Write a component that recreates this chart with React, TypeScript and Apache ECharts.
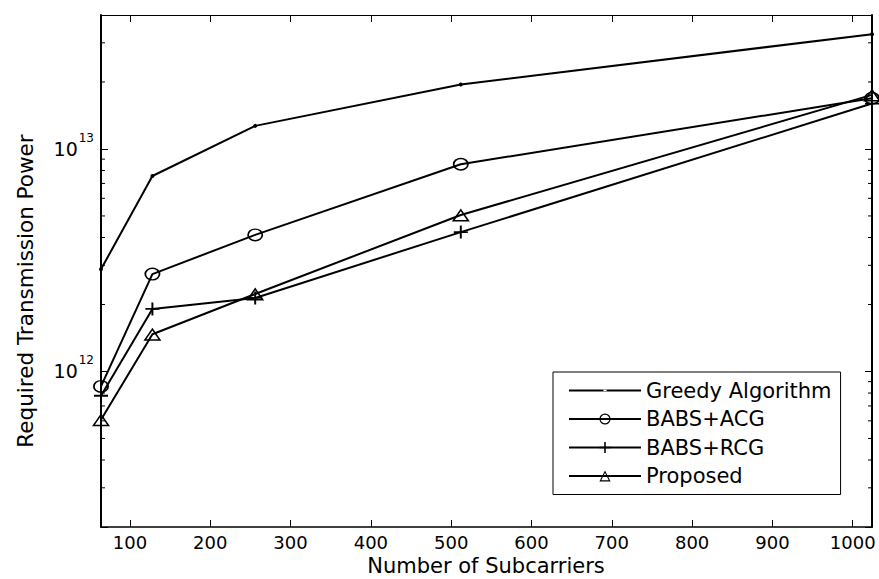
import React, { useEffect, useRef } from "react";
import * as echarts from "echarts";

const X_VALUES = [64, 128, 256, 512, 1024];
const GREEDY = [2.88e12, 7.56e12, 1.27e13, 1.95e13, 3.28e13];
const BABS_ACG = [8.57e11, 2.74e12, 4.11e12, 8.54e12, 1.69e13];
const BABS_RCG = [7.78e11, 1.91e12, 2.14e12, 4.23e12, 1.6e13];
const PROPOSED = [6.07e11, 1.47e12, 2.23e12, 5.05e12, 1.75e13];

const SERIES_NAMES = ["Greedy Algorithm", "BABS+ACG", "BABS+RCG", "Proposed"];
const X_TITLE = "Number of Subcarriers";
const Y_TITLE = "Required Transmission Power";
const X_MIN = 64;
const X_MAX = 1024;
const Y_MIN = 2e11;
const Y_MAX = 4e13;
const MINOR_Y_TICKS = [
  3e11, 4e11, 5e11, 6e11, 7e11, 8e11, 9e11,
  2e12, 3e12, 4e12, 5e12, 6e12, 7e12, 8e12, 9e12,
  2e13, 3e13,
];

const FONT = "DejaVu Sans";

const RING =
  "path://M0,10 A10,10 0 1,1 20,10 A10,10 0 1,1 0,10 Z M2.2,10 A7.8,7.8 0 1,0 17.8,10 A7.8,7.8 0 1,0 2.2,10 Z";
const TRI =
  "path://M0,17.32 L10,0 L20,17.32 Z M3.3,15.4 L16.7,15.4 L10,3.8 Z";
const PLUS =
  "path://M4.3,0 H5.7 V4.3 H10 V5.7 H5.7 V10 H4.3 V5.7 H0 V4.3 H4.3 Z";
const DOT_LINE =
  "path://M0,6 H72 V8 H0 Z M34.4,7 A1.6,1.6 0 1,0 37.6,7 A1.6,1.6 0 1,0 34.4,7 Z";

function pairs(ys: number[]) {
  return X_VALUES.map((x, i) => [x, ys[i]]);
}

export default function App() {
  const ref = useRef<HTMLDivElement>(null);

  useEffect(() => {
    document.body.style.margin = "0";
    if (!ref.current) return;
    const chart = echarts.init(ref.current, null, { renderer: "svg" });

    const lineBase = {
      type: "line" as const,
      clip: false,
      lineStyle: { color: "#000", width: 2 },
      itemStyle: { color: "#000", borderWidth: 0 },
      emphasis: { disabled: true },
      z: 3,
    };

    const yAxisCommon = {
      type: "log" as const,
      logBase: 10,
      min: Y_MIN,
      max: Y_MAX,
      splitLine: { show: false },
      axisTick: { show: true, inside: true, length: 7, lineStyle: { color: "#000", width: 1 } },
    };

    const xAxisCommon = {
      type: "value" as const,
      min: X_MIN,
      max: X_MAX,
      splitNumber: 10,
      maxInterval: 100,
      minInterval: 100,
      splitLine: { show: false },
      axisTick: { show: true, inside: true, length: 7, lineStyle: { color: "#000", width: 1 } },
    };

    chart.setOption({
      animation: false,
      backgroundColor: "#fff",
      grid: {
        left: 101,
        right: 7,
        top: 15,
        bottom: 52,
        containLabel: false,
        outerBoundsMode: "none",
      },
      xAxis: [
        {
          ...xAxisCommon,
          position: "bottom",
          axisLine: { show: true, lineStyle: { color: "#000", width: 1.6 } },
          axisLabel: {
            show: true,
            showMinLabel: false,
            showMaxLabel: false,
            margin: 6,
            color: "#000",
            fontFamily: FONT,
            fontSize: 18,
            lineHeight: 18,
            formatter: (v: number) => (v % 100 === 0 ? String(v) : ""),
          },
        },
        {
          ...xAxisCommon,
          position: "top",
          axisLine: { show: true, lineStyle: { color: "#000", width: 1.2 } },
          axisLabel: { show: false },
        },
      ],
      yAxis: [
        {
          ...yAxisCommon,
          position: "left",
          axisLine: { show: true, lineStyle: { color: "#000", width: 2 } },
          axisLabel: {
            show: true,
            margin: 7,
            color: "#000",
            formatter: (v: number) => {
              const e = Math.log10(v);
              const r = Math.round(e);
              if (Math.abs(e - r) > 1e-6) return "";
              return `{b|10}{e|${r}}`;
            },
            rich: {
              b: { fontFamily: FONT, fontSize: 19, color: "#000" },
              e: { fontFamily: FONT, fontSize: 12, color: "#000", padding: [0, 0, 22, 1] },
            },
          },
        },
        {
          ...yAxisCommon,
          position: "right",
          axisLine: { show: true, lineStyle: { color: "#000", width: 2 } },
          axisLabel: { show: false },
        },
      ],
      legend: {
        orient: "vertical",
        left: 553,
        top: 372,
        padding: [8, 9, 8, 15],
        itemGap: 7.5,
        itemWidth: 72,
        itemHeight: 14,
        borderColor: "#000",
        borderWidth: 1,
        backgroundColor: "#fff",
        selectedMode: false,
        textStyle: { fontFamily: FONT, fontSize: 21, color: "#000", lineHeight: 20 },
        data: [
          { name: SERIES_NAMES[0], icon: DOT_LINE },
          { name: SERIES_NAMES[1] },
          { name: SERIES_NAMES[2] },
          { name: SERIES_NAMES[3] },
        ],
      },
      graphic: [
        {
          type: "text",
          x: 25,
          y: 291,
          rotation: Math.PI / 2,
          style: {
            text: Y_TITLE,
            fontFamily: FONT,
            fontSize: 21.5,
            fill: "#000",
            align: "center",
            verticalAlign: "middle",
          },
        },
        {
          type: "text",
          x: 486,
          y: 566,
          style: {
            text: X_TITLE,
            fontFamily: FONT,
            fontSize: 21,
            fill: "#000",
            align: "center",
            verticalAlign: "middle",
          },
        },
      ],
      series: [
        {
          ...lineBase,
          name: SERIES_NAMES[0],
          data: pairs(GREEDY),
          symbol: "circle",
          symbolSize: 4,
        },
        {
          ...lineBase,
          name: SERIES_NAMES[1],
          data: pairs(BABS_ACG),
          symbol: RING,
          symbolSize: [16, 13],
        },
        {
          ...lineBase,
          name: SERIES_NAMES[2],
          data: pairs(BABS_RCG),
          symbol: PLUS,
          symbolSize: [14, 13],
        },
        {
          ...lineBase,
          name: SERIES_NAMES[3],
          data: pairs(PROPOSED),
          symbol: TRI,
          symbolSize: [18, 13],
        },
        {
          type: "custom",
          name: "minorTicks",
          silent: true,
          xAxisIndex: 0,
          yAxisIndex: 0,
          clip: false,
          z: 2,
          encode: { x: 0, y: 1 },
          data: MINOR_Y_TICKS.map((v) => [X_MIN, v]),
          renderItem: (params: any, api: any) => {
            const v = api.value(1);
            const pL = api.coord([X_MIN, v]);
            const pR = api.coord([X_MAX, v]);
            return {
              type: "group",
              children: [
                {
                  type: "line",
                  shape: { x1: pL[0], y1: pL[1], x2: pL[0] + 4, y2: pL[1] },
                  style: { stroke: "#000", lineWidth: 1 },
                },
                {
                  type: "line",
                  shape: { x1: pR[0] - 4, y1: pR[1], x2: pR[0], y2: pR[1] },
                  style: { stroke: "#000", lineWidth: 1 },
                },
              ],
            };
          },
        },
      ],
    });

    return () => {
      chart.dispose();
    };
  }, []);

  return (
    <div
      ref={ref}
      style={{ width: 879, height: 579, position: "absolute", left: 0, top: 0 }}
    />
  );
}
